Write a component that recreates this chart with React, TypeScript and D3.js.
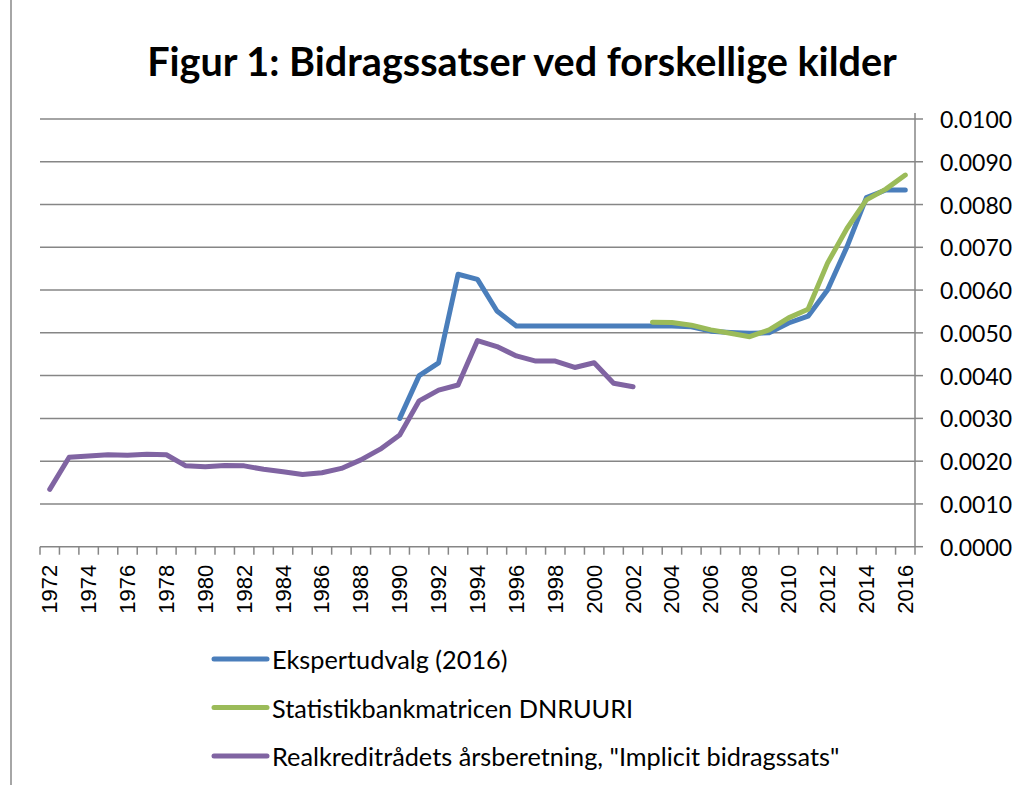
import * as d3 from 'd3';

// ---------------------------------------------------------------------------
// Data
// ---------------------------------------------------------------------------

const YEARS = d3.range(1972, 2017).map(String);
const TICK_YEARS = YEARS.filter((_y, i) => i % 2 === 0);
const Y_TICKS = [0, 0.001, 0.002, 0.003, 0.004, 0.005, 0.006, 0.007, 0.008, 0.009, 0.01];

// Ekspertudvalg (2016), 1990-2016
const EKSPERT_START = 1990;
const EKSPERT = [
  0.0030, 0.0040, 0.0043, 0.00637, 0.00625, 0.00551, 0.00516, 0.00516, 0.00516, 0.00516,
  0.00516, 0.00516, 0.00516, 0.00516, 0.00516, 0.00514, 0.00504, 0.00501, 0.00499, 0.0050,
  0.00523, 0.00539, 0.0060, 0.00701, 0.00816, 0.00834, 0.00834,
];

// Statistikbankmatricen DNRUURI, 2003-2016
const DNRUURI_START = 2003;
const DNRUURI = [
  0.00525, 0.00524, 0.00518, 0.00507, 0.00499, 0.00491, 0.00507, 0.00535, 0.00555, 0.00663,
  0.00744, 0.00811, 0.00836, 0.00869,
];

// Realkreditrådets årsberetning, 1972-2002
const REAL_START = 1972;
const REAL = [
  0.00134, 0.00209, 0.00212, 0.00215, 0.00214, 0.00216, 0.00215, 0.00189, 0.00187, 0.0019,
  0.00189, 0.00181, 0.00175, 0.00169, 0.00173, 0.00183, 0.00203, 0.00228, 0.00261, 0.00341,
  0.00366, 0.00378, 0.00482, 0.00468, 0.00446, 0.00434, 0.00434, 0.00419, 0.0043, 0.00382,
  0.00374,
];

const SERIES = [
  { name: 'Ekspertudvalg (2016)', start: EKSPERT_START, values: EKSPERT, color: '#4A7EBB' },
  { name: 'Statistikbankmatricen DNRUURI', start: DNRUURI_START, values: DNRUURI, color: '#9BBB59' },
  { name: 'Realkreditrådets årsberetning, "Implicit bidragssats"', start: REAL_START, values: REAL, color: '#8064A2' },
];

// ---------------------------------------------------------------------------
// Layout
// ---------------------------------------------------------------------------

const W = 1020;
const H = 785;
const PLOT = { left: 40, right: 915, top: 119, bottom: 546.7 };
const GRID = '#868686';
const LABEL_FONT = 'Lato, "Open Sans", sans-serif';

export default function App() {
  const x = d3.scaleBand<string>().domain(YEARS).range([PLOT.left, PLOT.right]);
  const y = d3.scaleLinear().domain([0, 0.01]).range([PLOT.bottom, PLOT.top]);

  const line = d3
    .line<{ year: string; v: number }>()
    .x((d) => (x(d.year) ?? 0) + x.bandwidth() / 2)
    .y((d) => y(d.v));

  const boundaries = d3.range(YEARS.length + 1).map((i) => PLOT.left + i * x.step());

  return (
    <svg
      width={W}
      height={H}
      style={{ position: 'absolute', left: 0, top: 0, background: '#fff' }}
    >
      {/* chart frame (left edge only visible) */}
      <line x1={11} x2={11} y1={0} y2={H} stroke="#a6a6a6" strokeWidth={2} />

      <text
        x={522}
        y={76}
        textAnchor="middle"
        fontFamily={LABEL_FONT}
        fontWeight="bold"
        fontSize={39.6}
        fill="#000"
      >
        Figur 1: Bidragssatser ved forskellige kilder
      </text>

      {/* gridlines */}
      {Y_TICKS.slice(1).map((t) => (
        <line key={t} x1={PLOT.left} x2={PLOT.right} y1={y(t)} y2={y(t)} stroke={GRID} strokeWidth={1.5} />
      ))}

      {/* y axis on the right */}
      <line x1={PLOT.right} x2={PLOT.right} y1={PLOT.top - 6} y2={PLOT.bottom} stroke={GRID} strokeWidth={1.5} />
      {Y_TICKS.map((t) => (
        <g key={t}>
          <line x1={PLOT.right} x2={PLOT.right + 8} y1={y(t)} y2={y(t)} stroke={GRID} strokeWidth={1.5} />
          <text
            x={940}
            y={y(t)}
            dominantBaseline="central"
            fontFamily={LABEL_FONT}
            fontSize={23}
            fill="#000"
          >
            {t.toFixed(4)}
          </text>
        </g>
      ))}

      {/* x axis */}
      <line x1={PLOT.left} x2={PLOT.right} y1={PLOT.bottom} y2={PLOT.bottom} stroke={GRID} strokeWidth={1.5} />
      {boundaries.map((bx, i) => (
        <line key={i} x1={bx} x2={bx} y1={PLOT.bottom} y2={PLOT.bottom + 8} stroke={GRID} strokeWidth={1.5} />
      ))}
      {TICK_YEARS.map((yr) => {
        const cx = (x(yr) ?? 0) + x.bandwidth() / 2;
        return (
          <text
            key={yr}
            transform={`translate(${cx},${PLOT.bottom + 18}) rotate(-90)`}
            textAnchor="end"
            dominantBaseline="central"
            fontFamily='"Liberation Sans", Arial, sans-serif'
            fontSize={22}
            fill="#000"
          >
            {yr}
          </text>
        );
      })}

      {/* series */}
      {SERIES.map((s) => (
        <path
          key={s.name}
          d={line(s.values.map((v, i) => ({ year: String(s.start + i), v }))) ?? ''}
          fill="none"
          stroke={s.color}
          strokeWidth={5}
          strokeLinejoin="round"
          strokeLinecap="round"
        />
      ))}

      {/* legend */}
      {SERIES.map((s, i) => {
        const ly = 659 + i * 48.5;
        return (
          <g key={s.name}>
            <line x1={214} x2={267} y1={ly} y2={ly} stroke={s.color} strokeWidth={5} strokeLinecap="round" />
            <text
              x={272}
              y={ly}
              dominantBaseline="central"
              fontFamily={LABEL_FONT}
              fontSize={25.3}
              fill="#000"
            >
              {s.name}
            </text>
          </g>
        );
      })}
    </svg>
  );
}
